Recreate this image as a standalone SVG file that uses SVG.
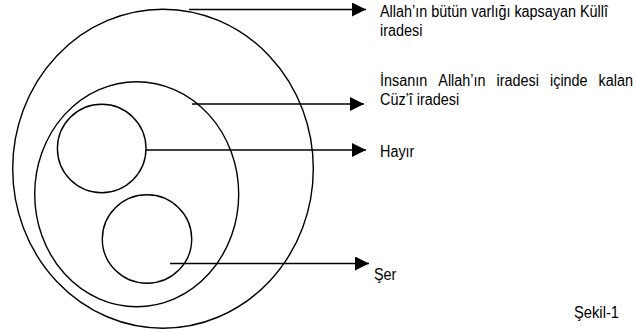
<svg xmlns="http://www.w3.org/2000/svg" width="636" height="333" viewBox="0 0 636 333">
<style>
.c{fill:none;stroke:#000;stroke-width:1.4}
.l{fill:none;stroke:#000;stroke-width:1.5}
text{font-family:"Liberation Sans",Arial,sans-serif;font-size:16px;fill:#000}
</style>
<defs>
<marker id="ah" markerUnits="userSpaceOnUse" markerWidth="15" markerHeight="15" refX="14" refY="7" orient="auto" viewBox="0 0 15 15">
<path d="M0,0 L14,7 L0,14 z" fill="#000"/>
</marker>
</defs>
<rect width="636" height="333" fill="#fff"/>
<g id="kulli"><ellipse class="c" cx="163" cy="168.7" rx="150.3" ry="159.5"/></g>
<g id="cuzi"><ellipse class="c" cx="136.7" cy="194.2" rx="102" ry="112.5"/></g>
<g id="hayir"><ellipse class="c" cx="101.7" cy="148.5" rx="44.3" ry="44.2"/></g>
<g id="ser"><ellipse class="c" cx="147" cy="239" rx="44.7" ry="44.3"/></g>
<g id="connectors">
<line class="l" x1="189" y1="9.5" x2="366" y2="9.5" marker-end="url(#ah)"/>
<line class="l" x1="192" y1="104" x2="364" y2="104" marker-end="url(#ah)"/>
<line class="l" x1="146" y1="150" x2="366" y2="150" marker-end="url(#ah)"/>
<line class="l" x1="170" y1="263.5" x2="369" y2="263.5" marker-end="url(#ah)"/>
</g>
<g id="labels">
<text x="380" y="16.5" textLength="228" lengthAdjust="spacingAndGlyphs">Allah’ın bütün varlığı kapsayan Küllî</text>
<text x="380" y="36" textLength="42.4" lengthAdjust="spacingAndGlyphs">iradesi</text>
<text x="380" y="86" textLength="47.2" lengthAdjust="spacingAndGlyphs">İnsanın</text>
<text x="438.3" y="86" textLength="47.2" lengthAdjust="spacingAndGlyphs">Allah’ın</text>
<text x="496.5" y="86" textLength="42.4" lengthAdjust="spacingAndGlyphs">iradesi</text>
<text x="550" y="86" textLength="37.6" lengthAdjust="spacingAndGlyphs">içinde</text>
<text x="598.6" y="86" textLength="34.4" lengthAdjust="spacingAndGlyphs">kalan</text>
<text x="380" y="105" textLength="79.2" lengthAdjust="spacingAndGlyphs">Cüz’î iradesi</text>
<text x="380" y="157.3" textLength="34.4" lengthAdjust="spacingAndGlyphs">Hayır</text>
<text x="374" y="280" textLength="22.4" lengthAdjust="spacingAndGlyphs">Şer</text>
<text x="574" y="318" textLength="45" lengthAdjust="spacingAndGlyphs">Şekil-1</text>
</g>
</svg>
